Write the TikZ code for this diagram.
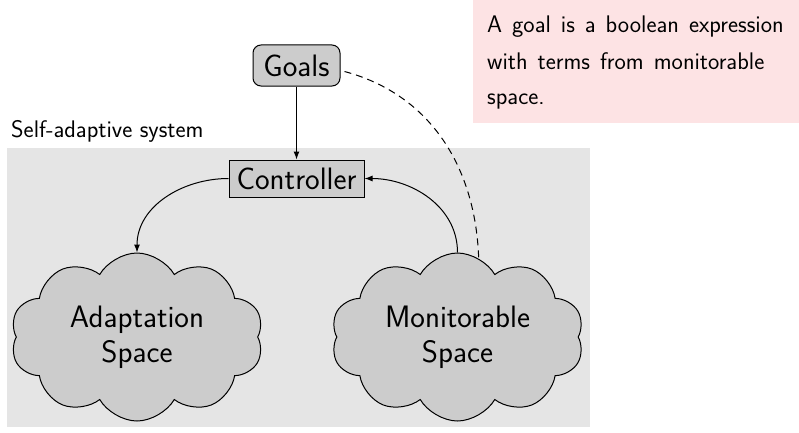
\documentclass[tikz,border=0pt]{standalone}
\usepackage{fontspec}
\usetikzlibrary{shapes.symbols,arrows.meta}
\definecolor{notepink}{RGB}{253,227,228}
\definecolor{sysgray}{RGB}{229,229,229}
\definecolor{boxgray}{RGB}{204,204,204}
\tikzset{
  smalltext/.style={font=\sffamily\fontsize{24}{36}\selectfont},
  bigtext/.style={font=\sffamily\fontsize{31}{35}\selectfont},
  block/.style={draw, fill=boxgray, line width=1pt, bigtext, inner sep=0pt},
  space/.style={cloud, cloud puffs=10, cloud puff arc=120, aspect=1.5,
    draw, fill=boxgray, line width=1pt, bigtext, align=center,
    minimum width=253pt, minimum height=168pt, inner sep=0pt},
  link/.style={line width=1pt, -{Latex[length=8pt,width=6pt]}},
}
\begin{document}
\begin{tikzpicture}[x=1pt,y=1pt]
  \useasboundingbox (0,0) rectangle (799,432);
  % explanatory note
  \fill[notepink] (473,432) rectangle (805,309);
  \node[smalltext, anchor=base west, text width=300pt, align=flush left, inner sep=0pt]
    (note) at (487,399) {\spaceskip=10pt A goal is a boolean expression with terms from monitorable space.};
  % system boundary
  \fill[sysgray] (7,284) rectangle (590,5);
  \node[smalltext, anchor=base west, inner sep=0pt] (syslabel) at (11,295) {Self-adaptive system};
  % components
  \node[block, rounded corners=8pt, minimum width=87pt, minimum height=41pt] (goals) at (296.5,366.5) {Goals};
  \node[block, minimum width=135pt, minimum height=37pt] (ctrl) at (296.5,253.5) {Controller};
  \node[space] (adapt) at (137,95) {Adaptation\\Space};
  \node[space] (mon) at (457.5,95) {Monitorable\\Space};
  % connectors
  \draw[link] (goals) -- (ctrl);
  \draw[link] (ctrl.west) to[out=180, in=90] (adapt.north);
  \draw[link] (mon.north) to[out=90, in=0] (ctrl.east);
  \draw[line width=1pt, dash pattern=on 7pt off 5pt] ([xshift=4pt,yshift=-6pt]goals.east) to[out=-15, in=92] (mon.75);
\end{tikzpicture}
\end{document}
